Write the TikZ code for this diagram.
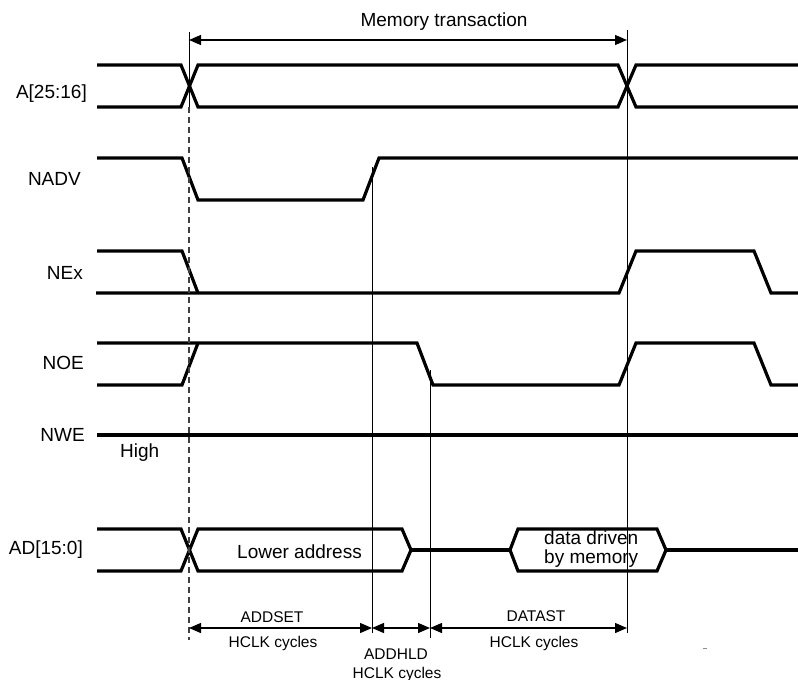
\documentclass[tikz,border=0pt]{standalone}
\usepackage{fontspec}
\setmainfont{Liberation Sans}
\usetikzlibrary{arrows.meta}
\begin{document}
\begin{tikzpicture}[x=1pt,y=-1pt,
  sig/.style={line width=3.2pt},
  guide/.style={line width=1pt},
  guidedash/.style={line width=1.1pt, black!75, dash pattern=on 6pt off 4pt},
  dim/.style={line width=1.3pt, {Triangle[length=12pt,width=10pt]}-{Triangle[length=12pt,width=10pt]}},
  lbl/.style={inner sep=0pt, font=\fontsize{19}{21}\selectfont},
  small/.style={inner sep=0pt, font=\fontsize{15.5}{17}\selectfont}]
\useasboundingbox (0,0) rectangle (798,680);

% signal names
\node[lbl, anchor=base east] (nA)   at (87,98)  {A[25:16]};
\node[lbl, anchor=base east] (nADV) at (81,185) {NADV};
\node[lbl, anchor=base east] (nEx)  at (83,279) {NEx};
\node[lbl, anchor=base east] (nOE)  at (84,369) {NOE};
\node[lbl, anchor=base east] (nWE)  at (85,441) {NWE};
\node[lbl, anchor=base east] (nAD)  at (83,554) {AD[15:0]};
\node[lbl, anchor=base west] (high) at (120,457) {High};

% A[25:16] address bus
\draw[sig] (97,65)--(181,65)--(198,107)--(618,107)--(636,65)--(798,65);
\draw[sig] (97,107)--(181,107)--(198,65)--(618,65)--(636,107)--(798,107);

% NADV
\draw[sig] (97,158)--(182,158)--(198,200)--(363,200)--(379,158)--(798,158);

% NEx
\draw[sig] (97,251)--(182,251)--(198,293);
\draw[sig] (96,293)--(619,293)--(636,251)--(754,251)--(771,293)--(798,293);

% NOE
\draw[sig] (97,385)--(182,385)--(198,343);
\draw[sig] (97,343)--(417,343)--(433,385)--(619,385)--(636,343)--(754,343)--(771,385)--(798,385);

% NWE
\draw[sig] (97,435)--(798,435);

% AD[15:0] multiplexed bus
\draw[sig] (97,529)--(181,529)--(198,571)--(402,571)--(411,550)--(402,529)--(198,529)--(181,571)--(97,571);
\draw[sig] (411,550)--(510,550);
\draw[sig] (510,550)--(518,529)--(657,529)--(666,550)--(657,571)--(518,571)--cycle;
\draw[sig] (666,550)--(798,550);
\node[lbl, anchor=base west] (la)  at (237,558) {Lower address};
\node[lbl, anchor=base west] (dd1) at (544,544) {data driven};
\node[lbl, anchor=base west] (dd2) at (544,563) {by memory};

% timing guides
\draw[guide] (189,32)--(189,107);
\draw[guidedash] (189,107)--(189,640);
\draw[guide] (627,30)--(627,633);
\draw[guide] (372,167)--(372,633);
\draw[guide] (430,370)--(430,638);

% memory transaction span
\coordinate (mtL) at (189,40);
\coordinate (mtR) at (627,40);
\draw[dim] (mtL) -- (mtR);
\node[lbl, anchor=base] (mt) at (444,27) {Memory transaction};

% phase durations
\coordinate (b0) at (189,628);
\coordinate (b1) at (372,628);
\coordinate (b2) at (430,628);
\coordinate (b3) at (627,628);
\draw[dim] (b0) -- (b1);
\draw[dim] (b1) -- (b2);
\draw[dim] (b2) -- (b3);

\node[small, anchor=base] (s1) at (272,622) {ADDSET};
\node[small, anchor=base] (s2) at (273,647) {HCLK cycles};
\node[small, anchor=base] (h1) at (396,659) {ADDHLD};
\node[small, anchor=base] (h2) at (397,678) {HCLK cycles};
\node[small, anchor=base] (d1) at (536,621) {DATAST};
\node[small, anchor=base] (d2) at (534,647) {HCLK cycles};

% stray mark
\draw[black!45, line width=1pt] (703,648)--(707,648);
\end{tikzpicture}
\end{document}
